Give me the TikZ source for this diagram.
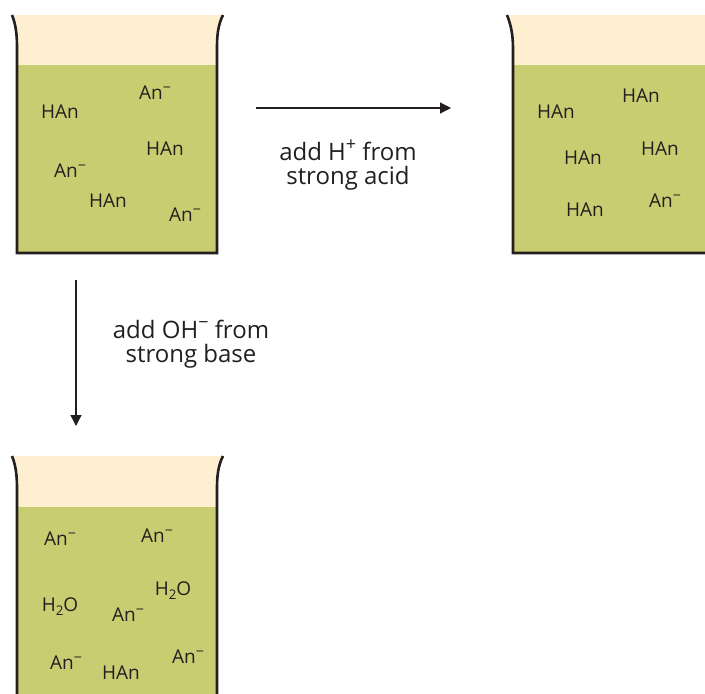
\documentclass[tikz,border=0pt]{standalone}
\usepackage{fontspec}
\setmainfont{Open Sans}
\usetikzlibrary{arrows.meta}
\definecolor{cream}{HTML}{FEEFD0}
\definecolor{liquid}{HTML}{C9CD71}
\definecolor{wall}{HTML}{231F20}
\definecolor{ink}{HTML}{231F20}
\newcommand\supx[1]{\raisebox{0.40em}{\fontsize{0.75em}{1em}\selectfont #1}}
\newcommand\subx[1]{\raisebox{-0.20em}{\fontsize{0.7em}{1em}\selectfont #1}}
\newcommand\Anm{An\supx{−}}
\newcommand\Hwater{H\subx{2}O}
\tikzset{
  species/.style={inner sep=0pt, text=ink, font=\fontsize{19}{19}\selectfont},
  lbl/.style={inner sep=0pt, text=ink, align=center, font=\fontsize{24}{24}\selectfont},
  wallline/.style={draw=wall, line width=2.6pt, line join=miter},
  arr/.style={draw=ink, line width=1.2pt, -{Triangle[length=11pt,width=11pt]}},
}
\begin{document}
\begin{tikzpicture}[x=1pt,y=-1pt]
\useasboundingbox (0,0) rectangle (705,694);
\clip (0,0) rectangle (705,694);
% ---- beaker 1
\fill[cream] (12,15) .. controls (16,25) and (17,35) .. (17,48) -- (17,65) -- (217,65) -- (217,48) .. controls (217,35) and (218,25) .. (223,15) -- cycle;
\fill[liquid] (17,65) rectangle (217,253);
\draw[wallline] (12,15) .. controls (16,25) and (17,35) .. (17,48) -- (17,253) -- (217,253) -- (217,48) .. controls (217,35) and (218,25) .. (223,15);
% ---- beaker 2
\fill[cream] (507,15) .. controls (511,25) and (513,35) .. (513,48) -- (513,65) -- (710,65) -- (710,15) -- cycle;
\fill[liquid] (513,65) rectangle (710,253);
\draw[wallline] (507,15) .. controls (511,25) and (513,35) .. (513,48) -- (513,253) -- (710,253);
% ---- beaker 3
\fill[cream] (12,456) .. controls (16,466) and (17,476) .. (17,489) -- (17,507) -- (217,507) -- (217,489) .. controls (217,476) and (218,466) .. (223,456) -- cycle;
\fill[liquid] (17,507) rectangle (217,700);
\draw[wallline] (12,456) .. controls (16,466) and (17,476) .. (17,489) -- (17,700) (217,700) -- (217,489) .. controls (217,476) and (218,466) .. (223,456);
% ---- species, beaker 1
\node[species] (b1a) at (60,112) {HAn};
\node[species] (b1b) at (155,93) {\Anm};
\node[species] (b1c) at (165,149) {HAn};
\node[species] (b1d) at (70,171) {\Anm};
\node[species] (b1e) at (108,201) {HAn};
\node[species] (b1f) at (185,215) {\Anm};
% ---- species, beaker 2
\node[species] (b2a) at (556,112) {HAn};
\node[species] (b2b) at (641,96) {HAn};
\node[species] (b2c) at (583,158) {HAn};
\node[species] (b2d) at (660,149) {HAn};
\node[species] (b2e) at (585,210) {HAn};
\node[species] (b2f) at (665,201) {\Anm};
% ---- species, beaker 3
\node[species] (b3a) at (60,539) {\Anm};
\node[species] (b3b) at (157,536) {\Anm};
\node[species] (b3c) at (60,607) {\Hwater};
\node[species] (b3d) at (128,615) {\Anm};
\node[species] (b3e) at (173,591) {\Hwater};
\node[species] (b3f) at (66,663) {\Anm};
\node[species] (b3g) at (121,673) {HAn};
\node[species] (b3h) at (188,657) {\Anm};
% ---- arrows and labels
\coordinate (h1) at (256,108);
\coordinate (h2) at (451,108);
\draw[arr] (h1) -- (h2);
\node[lbl] (acid) at (348,165) {add H\supx{+} from\\strong acid};
\coordinate (v1) at (76,280);
\coordinate (v2) at (76,426);
\draw[arr] (v1) -- (v2);
\node[lbl] (base) at (191,344) {add OH\supx{−} from\\strong base};
\end{tikzpicture}
\end{document}
